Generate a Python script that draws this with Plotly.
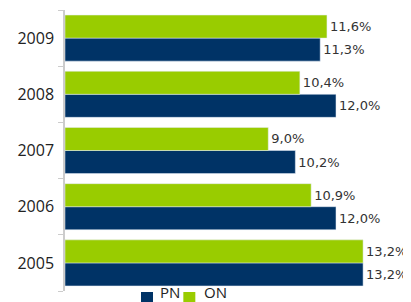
import plotly.graph_objects as go

years = ["2005", "2006", "2007", "2008", "2009"]
pn = [13.2, 12.0, 10.2, 12.0, 11.3]
on = [13.2, 10.9, 9.0, 10.4, 11.6]
series_names = ["PN", "ON"]
series_colors = ["#003366", "#99CC00"]

def fmt(vals):
    return [f"{v:.1f}%".replace(".", ",") for v in vals]

fig = go.Figure()
for name, vals, col in zip(series_names, [pn, on], series_colors):
    fig.add_trace(go.Bar(y=years, x=vals, name=name, orientation="h",
                         marker_color=col, text=fmt(vals), textposition="outside",
                         textfont=dict(color="#333333", size=13, family="DejaVu Sans"),
                         cliponaxis=False, showlegend=False))

# manual compact legend below the plot
legend_sq_x = [0.2229, 0.347]
legend_tx_x = [0.274, 0.401]
for name, col, sx, tx in zip(series_names, series_colors, legend_sq_x, legend_tx_x):
    fig.add_shape(type="rect", xref="paper", yref="paper",
                  xsizemode="pixel", ysizemode="pixel",
                  xanchor=sx, yanchor=-0.0036, x0=0, x1=12, y0=-11, y1=0,
                  fillcolor=col, line=dict(width=0))
    fig.add_annotation(text=name, xref="paper", yref="paper", x=tx, y=0.04,
                       xanchor="left", yanchor="top", showarrow=False,
                       font=dict(size=15, family="Open Sans", color="#222222"))

fig.update_layout(
    width=403, height=294,
    margin=dict(l=57, r=5, t=2, b=11, autoexpand=False),
    barmode="group", bargap=0.18, bargroupgap=0,
    plot_bgcolor="white", paper_bgcolor="white",
    font=dict(family="Open Sans", color="#333333", size=14),
    xaxis=dict(range=[0, 15.1], visible=False),
    yaxis=dict(showline=True, linecolor="#cccccc", linewidth=1.5,
               ticks="outside", tickson="boundaries", ticklen=5, tickcolor="#cccccc",
               tickfont=dict(size=16, family="Open Sans", color="#222222"),
               ticklabelstandoff=6, automargin=False),
)
fig.write_html("out.html")
